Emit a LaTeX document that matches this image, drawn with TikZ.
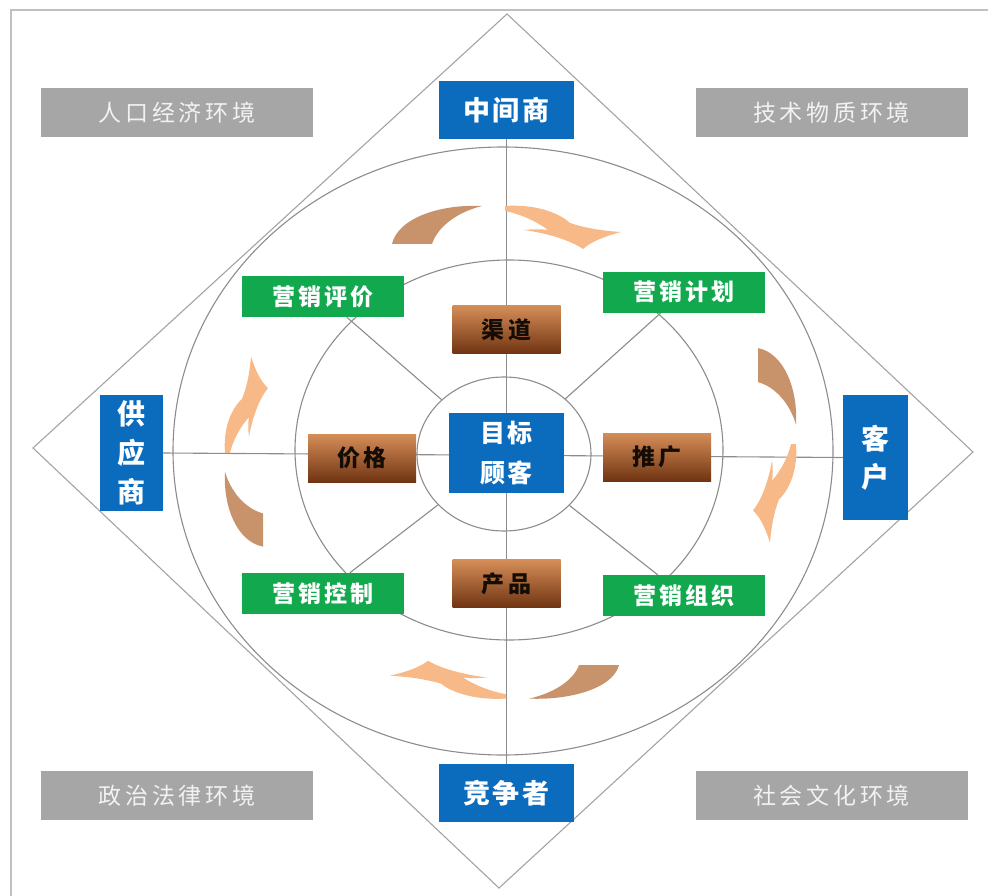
\documentclass[tikz,border=0pt]{standalone}
\usepackage{fontspec}
\setmainfont{Noto Sans CJK SC}
\usetikzlibrary{shapes.geometric,backgrounds}
\definecolor{cblue}{RGB}{11,108,190}
\definecolor{cgreen}{RGB}{18,168,78}
\definecolor{cgray}{RGB}{166,166,166}
\definecolor{cgraytxt}{RGB}{242,242,242}
\definecolor{cline}{RGB}{140,140,140}
\definecolor{cframe}{RGB}{192,192,192}
\definecolor{cbrtop}{RGB}{214,142,88}
\definecolor{cbrbot}{RGB}{112,52,18}
\definecolor{carrbrown}{RGB}{200,146,106}
\definecolor{carrpeach}{RGB}{247,185,135}
\newcommand\arrowpair{%
  \fill[carrbrown] (-114,18) .. controls (-108,-8) and (-66,-22) .. (-24,-20)
     .. controls (-48,-14) and (-68,0) .. (-74,18) -- cycle;
  \fill[carrpeach] (-1,-20) .. controls (28,-22) and (52,-14) .. (64,-3)
     .. controls (82,3) and (100,5) .. (115,6)
     .. controls (100,10) and (86,15) .. (77,23)
     .. controls (64,14) and (40,7) .. (18,4)
     .. controls (28,3) and (36,3) .. (42,4)
     .. controls (30,-5) and (14,-12) .. (-1,-15) -- cycle;
}
\begin{document}
\begin{tikzpicture}[x=1pt,y=-1pt,
  envbox/.style={fill=cgray, text=cgraytxt, minimum width=272, minimum height=49, inner sep=0,
     font=\fontsize{23}{26}\selectfont\addfontfeatures{LetterSpace=16}},
  bluebox/.style={fill=cblue, text=white, inner sep=0, align=center},
  greenbox/.style={fill=cgreen, text=white, minimum width=162, minimum height=41, inner sep=0,
     font=\fontsize{23}{26}\selectfont\bfseries\addfontfeatures{LetterSpace=12}},
  brownbox/.style={top color=cbrtop, bottom color=cbrbot, text=black!90!brown, minimum width=108, minimum height=48, inner sep=0,
     font=\fontsize{23}{26}\selectfont\bfseries\addfontfeatures{LetterSpace=16}},
  ring/.style={draw=cline, line width=1.1},
  conn/.style={draw=cline, line width=1.1}]
\useasboundingbox (0,0) rectangle (988,896);
% frame
\draw[cframe, line width=2] (11,900) -- (11,10) -- (992,10);
% diamond
\draw[cline!80, line width=1.1] (507,14) -- (973,452) -- (499,888) -- (33,448) -- cycle;
% rings
\draw[ring] (503,451) ellipse [x radius=330, y radius=304];
\draw[ring] (509,450) ellipse [x radius=214, y radius=190];
\node[ellipse, ring, minimum width=174, minimum height=154, inner sep=0] (inner) at (504,454) {};
% rotation arrows
\begin{scope}[shift={(506,226)}] \arrowpair \end{scope}
\begin{scope}[shift={(776,445)}, rotate=-90, xscale=0.85] \arrowpair \end{scope}
\begin{scope}[shift={(505,681)}, rotate=180, yscale=0.88] \arrowpair \end{scope}
\begin{scope}[shift={(245,452)}, rotate=90, xscale=0.83] \arrowpair \end{scope}
% environment boxes
\node[envbox] (e1) at (177,112.5) {人口经济环境};
\node[envbox] (e2) at (831.5,112.5) {技术物质环境};
\node[envbox] (e3) at (177,795.5) {政治法律环境};
\node[envbox] (e4) at (831.5,795.5) {社会文化环境};
% blue boxes
\node[bluebox, minimum width=135, minimum height=58, font=\fontsize{27}{30}\selectfont\bfseries\addfontfeatures{LetterSpace=8}] (mid) at (506.5,110) {中间商};
\node[bluebox, minimum width=135, minimum height=58, font=\fontsize{27}{30}\selectfont\bfseries\addfontfeatures{LetterSpace=8}] (comp) at (506.5,793) {竞争者};
\node[bluebox, minimum width=63, minimum height=116, font=\fontsize{28}{39}\selectfont\bfseries] (sup) at (131.5,453) {供\\应\\商};
\node[bluebox, minimum width=65, minimum height=125, font=\fontsize{28}{38}\selectfont\bfseries] (cus) at (875.5,457.5) {客\\户};
\node[bluebox, minimum width=115, minimum height=80, font=\fontsize{25}{40}\selectfont\bfseries\addfontfeatures{LetterSpace=8}] (tc) at (506.5,453) {目标\\顾客};
% green boxes
\node[greenbox] (g1) at (323,296.5) {营销评价};
\node[greenbox] (g2) at (684,292) {营销计划};
\node[greenbox] (g3) at (323,593.5) {营销控制};
\node[greenbox] (g4) at (684,595.5) {营销组织};
% brown boxes
\node[brownbox] (b1) at (506.5,329.5) {渠道};
\node[brownbox] (b2) at (362,458) {价格};
\node[brownbox] (b3) at (657,457) {推广};
\node[brownbox] (b4) at (506.5,583.5) {产品};
% connectors
\begin{scope}[on background layer]
\draw[conn] (mid.south) -- (comp.north);
\draw[conn] (sup.east) -- (cus.west);
\draw[conn] (g1) -- (inner);
\draw[conn] (g2) -- (inner);
\draw[conn] (g3) -- (inner);
\draw[conn] (g4) -- (inner);
\end{scope}
\end{tikzpicture}
\end{document}
